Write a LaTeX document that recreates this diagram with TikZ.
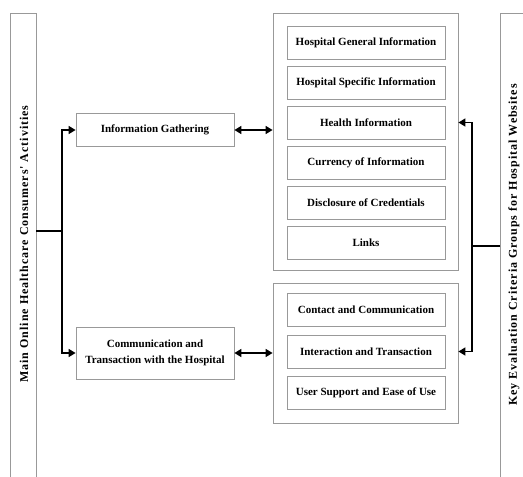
\documentclass[tikz,border=0pt]{standalone}
\usepackage{fontspec}
\setmainfont{Liberation Serif}
\newfontfamily\spacedserif[LetterSpace=8]{Liberation Serif}
\usetikzlibrary{arrows.meta}

\tikzset{
	panel/.style={draw=black!40, line width=0.8pt},
	activity/.style={draw=black!40, line width=0.8pt, minimum width=158pt, align=center,
		font=\bfseries\fontsize{11}{16}\selectfont, inner sep=2pt},
	criterion/.style={activity, minimum height=33pt},
	group/.style={draw=black!40, line width=0.8pt, minimum width=185pt},
	link/.style={line width=1.6pt, -{Triangle[length=7pt,width=8pt]}},
	twoway/.style={line width=1.6pt, {Triangle[length=7pt,width=8pt]}-{Triangle[length=7pt,width=8pt]}},
	sidetitle/.style={rotate=90, font=\spacedserif\bfseries\fontsize{12}{14}\selectfont}
}

\begin{document}
\begin{tikzpicture}[x=1pt, y=-1pt]
		\useasboundingbox (0, 0) rectangle (523, 477);
		
		% side panels
		\draw [panel] (10, 477) -- (10, 13) -- (36, 13) -- (36, 477);
		\draw [panel] (523, 13) -- (500, 13) -- (500, 477);
		\node [sidetitle] (activities) at (24, 244) {Main Online Healthcare Consumers' Activities};
		\node [sidetitle] (criteria) at (514, 245) {Key Evaluation Criteria Groups for Hospital Websites};
		
		% consumer activities
		\node [activity, minimum height=33pt] (info) at (155, 130) {Information Gathering};
		\node [activity, minimum height=52pt] (comm) at (155, 353) {Communication and\\Transaction with the Hospital};
		
		% criteria groups
		\node [group, minimum height=257pt] (general) at (365.5, 141.5) {};
		\node [group, minimum height=140pt] (contact) at (365.5, 353) {};
		
		\node [criterion] (hgi) at (366, 42.5) {Hospital General Information};
		\node [criterion] (hsi) at (366, 82.5) {Hospital Specific Information};
		\node [criterion] (health) at (366, 122.5) {Health Information};
		\node [criterion] (currency) at (366, 162.5) {Currency of Information};
		\node [criterion] (credentials) at (366, 202.5) {Disclosure of Credentials};
		\node [criterion] (links) at (366, 242.5) {Links};
		
		\node [criterion] (communication) at (366, 310) {Contact and Communication};
		\node [criterion] (interaction) at (366, 351.5) {Interaction and Transaction};
		\node [criterion] (support) at (366, 393) {User Support and Ease of Use};
		
		% connectors
		\coordinate (act out) at (36, 231);
		\coordinate (fork) at (62, 231);
		\coordinate (crit out) at (500, 246);
		\coordinate (join) at (472, 246);
		
		\draw [line width=1.6pt] (act out) -- (fork);
		\draw [link] (fork) |- (info);
		\draw [link] (fork) |- (comm);
		
		\draw [twoway] (info) -- (info -| general.west);
		\draw [twoway] (comm) -- (comm -| contact.west);
		
		\draw [line width=1.6pt] (crit out) -- (join);
		\draw [link] (join) |- (general.east |- health);
		\draw [link] (join) |- (contact.east |- interaction);
	\end{tikzpicture}
\end{document}
